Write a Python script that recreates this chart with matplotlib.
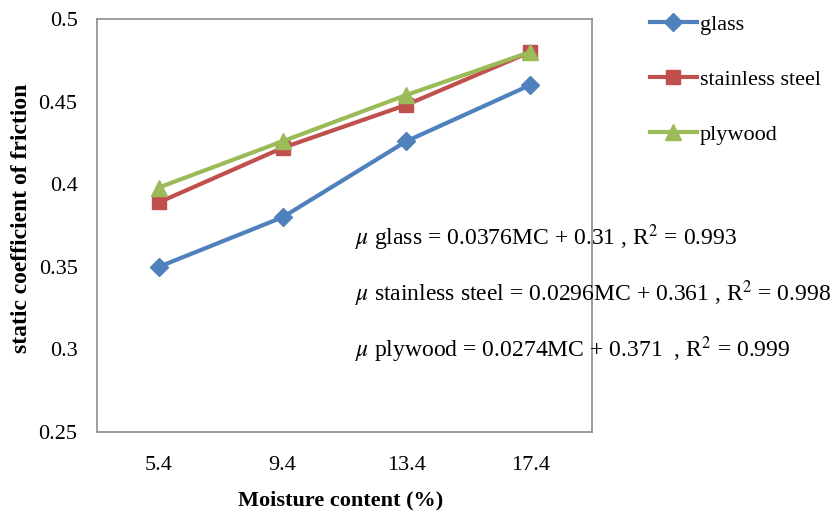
import numpy as np
import matplotlib
matplotlib.use("Agg")
import matplotlib.pyplot as plt

plt.rcParams['font.family'] = ['Liberation Serif', 'DejaVu Serif']
plt.rcParams['mathtext.fontset'] = 'stix'

moisture = ["5.4", "9.4", "13.4", "17.4"]
glass = [0.350, 0.380, 0.426, 0.460]
steel = [0.389, 0.422, 0.448, 0.480]
plywood = [0.398, 0.426, 0.454, 0.480]

equations = [
    r"$\mu$ glass = 0.0376MC + 0.31 , R$^2$ = 0.993",
    r"$\mu$ stainless steel = 0.0296MC + 0.361 , R$^2$ = 0.998",
    r"$\mu$ plywood = 0.0274MC + 0.371  , R$^2$ = 0.999",
]

fig = plt.figure(figsize=(8.33, 5.14), dpi=100)
ax = fig.add_axes([97 / 833, 82 / 514, 495 / 833, 413 / 514])

x = np.arange(len(moisture))
ax.plot(x, glass, color='#4F81BD', lw=3, marker='D', ms=9, label='glass')
ax.plot(x, steel, color='#C0504D', lw=3, marker='s', ms=10, label='stainless steel')
ax.plot(x, plywood, color='#9BBB59', lw=3, marker='^', ms=11, label='plywood')

ax.set_xlim(-0.5, 3.5)
ax.set_ylim(0.25, 0.5)
ax.set_xticks(x)
ax.set_xticklabels(moisture)
ax.set_yticks([0.25, 0.3, 0.35, 0.4, 0.45, 0.5])
ax.set_yticklabels(["0.25", "0.3", "0.35", "0.4", "0.45", "0.5"])
ax.tick_params(length=0, labelsize=16)
ax.tick_params(axis='y', pad=14)
ax.tick_params(axis='x', pad=17)
for s in ax.spines.values():
    s.set_color('#8c8c8c')
    s.set_linewidth(1.2)

fig.text(341 / 833, 1 - 500 / 514, "Moisture content (%)", ha='center', va='center',
         fontsize=16, fontweight='bold')
fig.text(22 / 833, 1 - 218 / 514, "static coefficient of friction", ha='center', va='center',
         rotation=90, fontsize=17, fontweight='bold')

for i, eq in enumerate(equations):
    fig.text(355 / 833, 1 - (238 + 56 * i) / 514, eq, ha='left', va='center', fontsize=17)

fig.legend(loc='upper left', bbox_to_anchor=(630 / 833, 1 + 6 / 514), frameon=False,
           fontsize=16, handlelength=2.1, labelspacing=1.55, handletextpad=0.15)

fig.savefig("out.png", dpi=100)
